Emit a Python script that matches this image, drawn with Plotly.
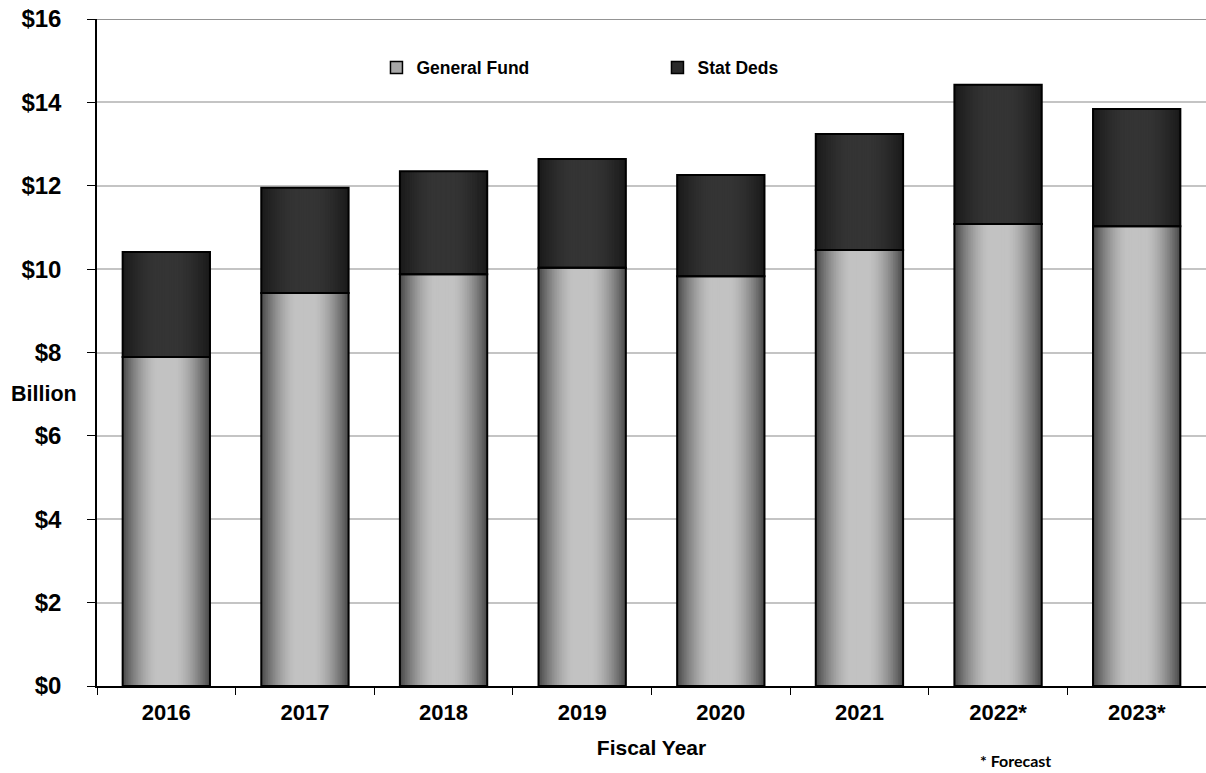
import plotly.graph_objects as go

# Fiscal years and revenue components ($ billion)
years = ["2016", "2017", "2018", "2019", "2020", "2021", "2022*", "2023*"]
general_fund = [7.89, 9.43, 9.88, 10.03, 9.83, 10.46, 11.08, 11.03]
stat_deds = [2.52, 2.52, 2.47, 2.61, 2.43, 2.78, 3.34, 2.81]
totals = [g + s for g, s in zip(general_fund, stat_deds)]

y_ticks = [0, 2, 4, 6, 8, 10, 12, 14, 16]
y_tick_text = ["$" + str(v) for v in y_ticks]

BAR_W = 0.63
N_LAYERS = 26
FONT = "Liberation Sans"


def mix(c1, c2, t):
    return "rgb({},{},{})".format(*[round(a + (b - a) * t) for a, b in zip(c1, c2)])


def ease(t, reach):
    u = min(t / reach, 1.0)
    return 1 - (1 - u) ** 1.6


fig = go.Figure()

# Cylindrical shading: stacked overlay of progressively narrower bars
gf_edge, gf_mid = (76, 76, 76), (194, 194, 194)
sd_edge, sd_mid = (26, 26, 26), (52, 52, 52)
for k in range(N_LAYERS):
    t = k / N_LAYERS
    w = BAR_W * (1 - t)
    fig.add_trace(go.Bar(
        x=years, y=general_fund, base=[0] * len(years), width=w,
        marker=dict(color=mix(gf_edge, gf_mid, ease(t, 0.78)), line=dict(width=0)),
        showlegend=False, hoverinfo="skip"))
    fig.add_trace(go.Bar(
        x=years, y=stat_deds, base=general_fund, width=w,
        marker=dict(color=mix(sd_edge, sd_mid, ease(t, 0.78)), line=dict(width=0)),
        showlegend=False, hoverinfo="skip"))

# Black outlines for each segment
fig.add_trace(go.Bar(
    x=years, y=general_fund, base=[0] * len(years), width=BAR_W,
    marker=dict(color="rgba(0,0,0,0)", line=dict(color="black", width=2)),
    showlegend=False, name="General Fund"))
fig.add_trace(go.Bar(
    x=years, y=stat_deds, base=general_fund, width=BAR_W,
    marker=dict(color="rgba(0,0,0,0)", line=dict(color="black", width=2)),
    showlegend=False, name="Stat Deds", customdata=totals))

# Legend entries
fig.add_trace(go.Bar(x=[years[0]], y=[None], name="General Fund",
                     marker=dict(color="#a8a8a8", line=dict(color="black", width=1.5))))
fig.add_trace(go.Bar(x=[years[0]], y=[None], name="Stat Deds",
                     marker=dict(color="#2a2a2a", line=dict(color="black", width=1.5))))

fig.update_layout(
    width=1206, height=773,
    barmode="overlay",
    plot_bgcolor="white", paper_bgcolor="white",
    margin=dict(l=97, r=0, t=19, b=87),
    font=dict(family=FONT, color="black"),
    legend=dict(orientation="h", x=0.252, y=0.927, xanchor="left", yanchor="middle",
                entrywidth=236, itemwidth=30, traceorder="normal",
                font=dict(family=FONT, size=17.5, weight="bold"),
                bgcolor="rgba(0,0,0,0)"),
    xaxis=dict(type="category", categoryorder="array", categoryarray=years,
               range=[-0.5, 7.5], showline=True, linecolor="black", linewidth=1.5,
               ticks="outside", tickson="boundaries", ticklen=7, tickcolor="black",
               tickfont=dict(family=FONT, size=22, weight="bold"),
               ticklabelstandoff=6,
               showgrid=False,
               title=dict(text="Fiscal Year", font=dict(family=FONT, size=21, weight="bold"),
                          standoff=16)),
    yaxis=dict(range=[0, 16], tickvals=y_ticks, ticktext=y_tick_text,
               showline=True, linecolor="black", linewidth=1.5,
               ticks="outside", ticklen=8, tickcolor="black",
               tickfont=dict(family=FONT, size=24, weight="bold"),
               ticklabelstandoff=21,
               showgrid=True, gridcolor="#c4c4c4", gridwidth=1.5,
               zeroline=False, automargin=False),
    shapes=[dict(type="line", xref="paper", yref="y", x0=0, x1=1, y0=16, y1=16,
                 line=dict(color="#707070", width=1.5))],
    annotations=[
        dict(text="Billion", xref="paper", yref="paper", x=-0.0795, y=0.438,
             xanchor="left", yanchor="middle", showarrow=False,
             font=dict(family=FONT, size=21.5, weight="bold")),
        dict(text="* Forecast", xref="paper", yref="paper", x=0.828, y=-0.111,
             xanchor="center", yanchor="middle", showarrow=False,
             font=dict(family="Lato", size=16, weight="bold")),
    ],
)

fig.write_html("out.html")
